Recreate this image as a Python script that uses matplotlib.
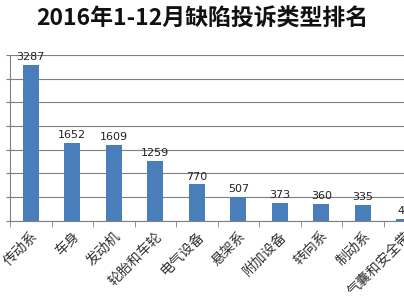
import numpy as np
import matplotlib.pyplot as plt
from matplotlib.ticker import MultipleLocator, FixedLocator

plt.rcParams['font.family'] = ['Noto Sans CJK SC', 'DejaVu Sans']

categories = ['传动系', '车身', '发动机', '轮胎和车轮', '电气设备',
              '悬架系', '附加设备', '转向系', '制动系', '气囊和安全带']
counts = [3287, 1652, 1609, 1259, 770, 507, 373, 360, 335, 48]

bar_color = '#4A7EBB'
grid_color = '#7F7F7F'

fig = plt.figure(figsize=(4.04, 3.03), dpi=100)
# the original picture is cropped on the right, so the axes run past the edge
ax = fig.add_axes([0.025, 0.271, 1.027, 0.548])

x = np.arange(len(categories))
ax.bar(x, counts, width=0.38, color=bar_color, zorder=3)

for xi, v in zip(x, counts):
    ax.text(xi, v + 60, str(v), ha='center', va='bottom',
            fontsize=8, color='#222222', family=['DejaVu Sans'])

ax.set_xlim(-0.5, len(categories) - 0.5)
ax.set_ylim(0, 3500)
ax.yaxis.set_major_locator(MultipleLocator(500))
ax.set_yticklabels([])
ax.grid(axis='y', color=grid_color, linewidth=0.8, zorder=0)

ax.set_xticks(x)
ax.set_xticklabels(categories, rotation=45, ha='right', rotation_mode='anchor',
                   fontsize=10, color='#333333')
ax.tick_params(axis='x', which='major', length=0, pad=6)
ax.xaxis.set_minor_locator(FixedLocator(np.arange(-0.5, len(categories), 1)))
ax.tick_params(axis='x', which='minor', length=4, color=grid_color, direction='out')
ax.tick_params(axis='y', length=3, color=grid_color, direction='out')

for side in ['top', 'right']:
    ax.spines[side].set_visible(False)
ax.spines['left'].set_color(grid_color)
ax.spines['bottom'].set_color(grid_color)

fig.text(0.5, 0.935, '2016年1-12月缺陷投诉类型排名', ha='center', va='center',
         fontsize=16.5, fontweight='bold', color='#111111')

fig.savefig('out.png', dpi=100)
